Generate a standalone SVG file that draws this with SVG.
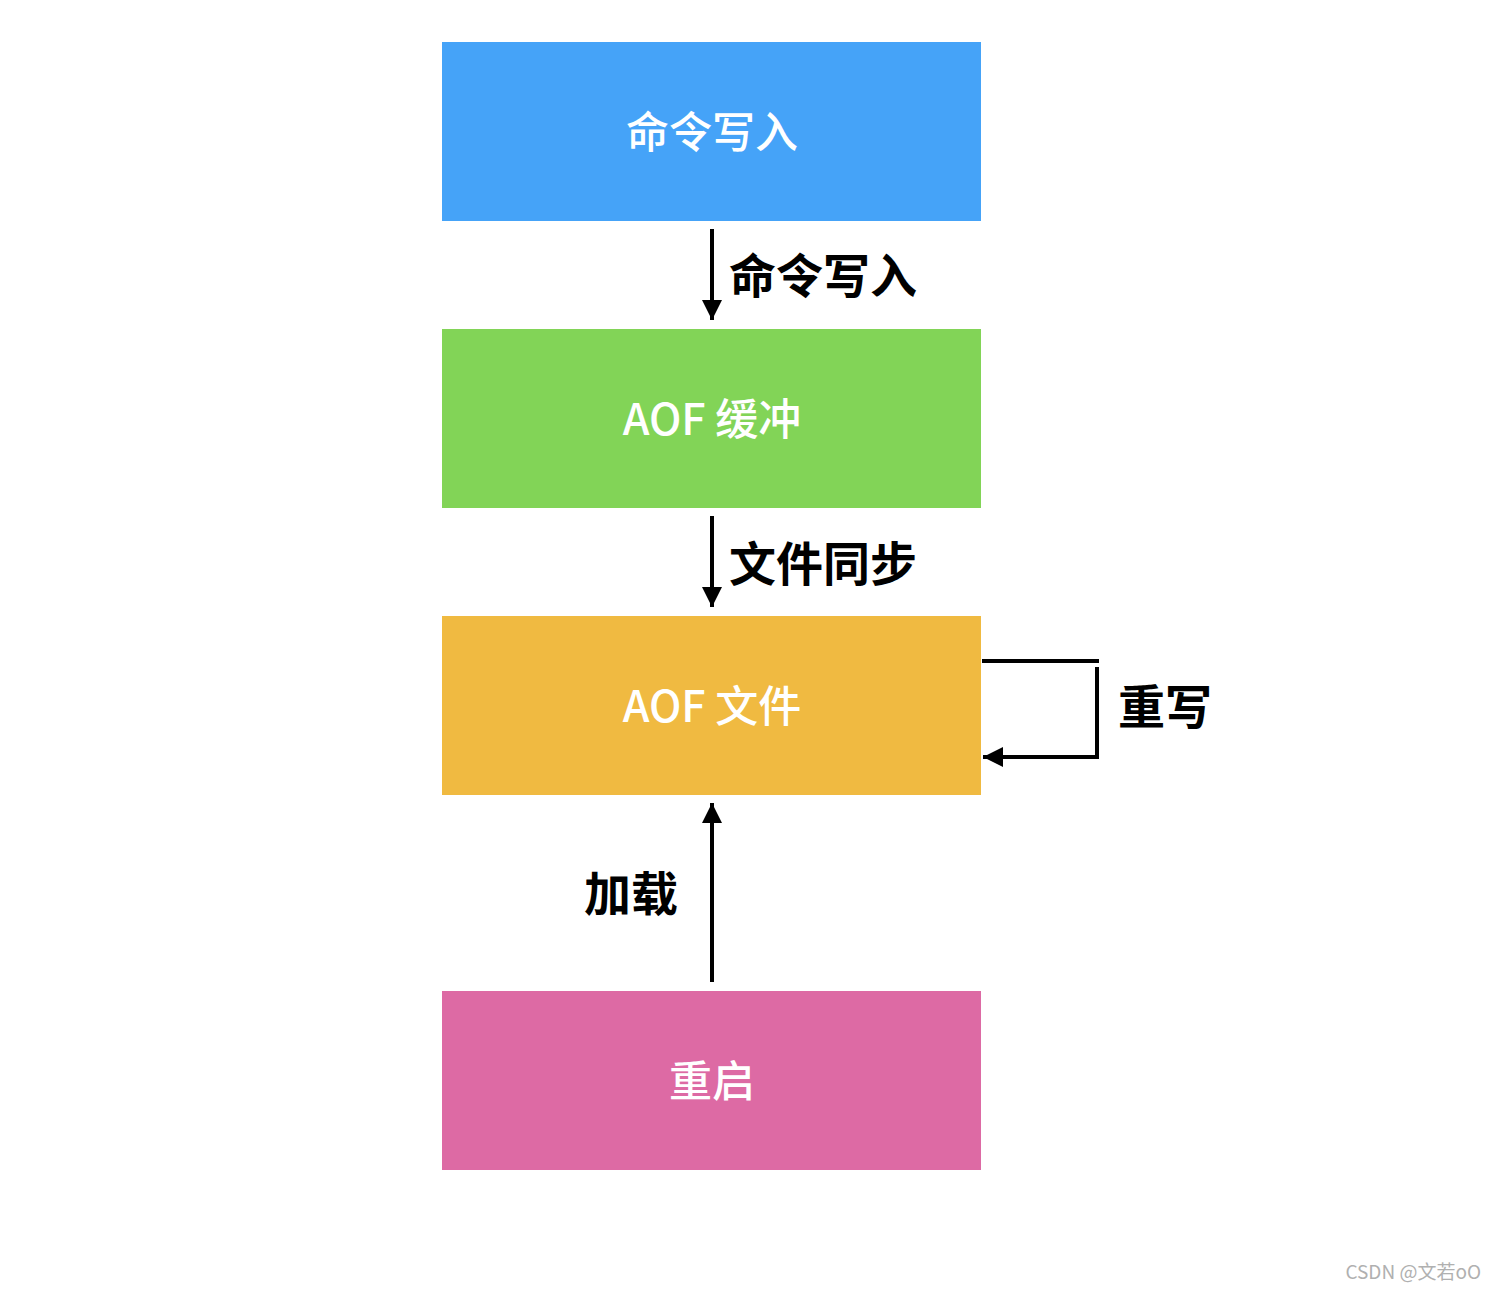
<svg xmlns="http://www.w3.org/2000/svg" width="1496" height="1290" viewBox="0 0 1496 1290">
<defs>
<style>
.box-text{font-family:"Noto Sans CJK SC","Noto Sans",sans-serif;font-size:43px;font-weight:500;fill:#ffffff;text-anchor:middle;dominant-baseline:central}
.lbl{font-family:"Noto Sans CJK SC","Noto Sans",sans-serif;font-size:47px;font-weight:bold;fill:#000000;dominant-baseline:central}
.line{stroke:#000;stroke-width:4;fill:none}
</style>
<marker id="ah" viewBox="0 0 10 10" refX="10" refY="5" markerWidth="5" markerHeight="5" markerUnits="strokeWidth" orient="auto">
<path d="M0,0 L10,5 L0,10 z" fill="#000"/>
</marker>
</defs>
<rect width="1496" height="1290" fill="#ffffff"/>
<g id="node-write">
<rect x="442" y="42" width="539" height="179" fill="#45A3F8"/>
<text class="box-text" x="712" y="129">命令写入</text>
</g>
<g id="node-buffer">
<rect x="442" y="329" width="539" height="179" fill="#82D457"/>
<text class="box-text" x="712" y="416">AOF 缓冲</text>
</g>
<g id="node-file">
<rect x="442" y="616" width="539" height="179" fill="#F0BA41"/>
<text class="box-text" x="712" y="703">AOF 文件</text>
</g>
<g id="node-restart">
<rect x="442" y="991" width="539" height="179" fill="#DD6AA4"/>
<text class="box-text" x="712" y="1078">重启</text>
</g>
<g id="connectors">
<line class="line" x1="712" y1="229" x2="712" y2="320" marker-end="url(#ah)"/>
<text class="lbl" x="729" y="272">命令写入</text>
<line class="line" x1="712" y1="516" x2="712" y2="607" marker-end="url(#ah)"/>
<text class="lbl" x="729" y="560">文件同步</text>
<line class="line" x1="982" y1="661" x2="1099" y2="661"/>
<line class="line" x1="1097" y1="667" x2="1097" y2="757"/>
<line class="line" x1="1099" y1="757" x2="983" y2="757" marker-end="url(#ah)"/>
<text class="lbl" x="1118" y="703">重写</text>
<line class="line" x1="712" y1="982" x2="712" y2="803" marker-end="url(#ah)"/>
<text class="lbl" x="584" y="890">加载</text>
</g>
<text x="1481" y="1279" font-family="'Noto Sans CJK SC','Noto Sans',sans-serif" font-size="19" fill="#b0b0b0" text-anchor="end">CSDN @文若oO</text>
</svg>
